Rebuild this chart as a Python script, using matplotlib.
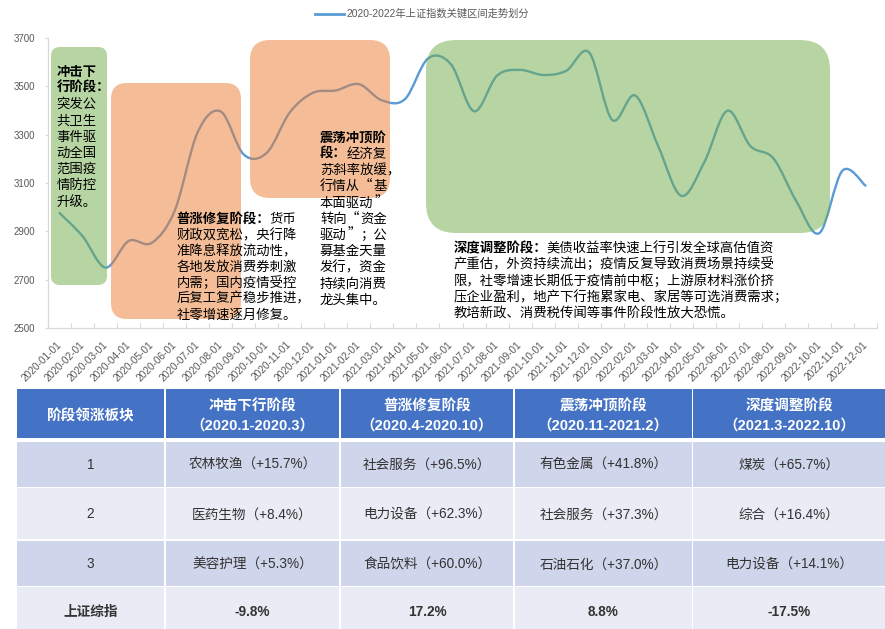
import numpy as np
import matplotlib
matplotlib.use("Agg")
import matplotlib.pyplot as plt
from matplotlib.path import Path
from matplotlib.patches import PathPatch, FancyBboxPatch, Rectangle
from matplotlib.transforms import Affine2D

# ---------------- data ----------------
dates = [f"{y}-{m:02d}-01" for y in (2020, 2021, 2022) for m in range(1, 13)]
sse = [2976, 2880, 2750, 2860, 2852, 2985, 3310, 3396, 3218, 3225, 3392, 3473,
       3483, 3509, 3442, 3447, 3615, 3591, 3397, 3544, 3568, 3547, 3564, 3640,
       3361, 3462, 3252, 3047, 3186, 3399, 3253, 3202, 3024, 2893, 3151, 3089]
series_name = "2020-2022年上证指数关键区间走势划分"
y_ticks = [2500, 2700, 2900, 3100, 3300, 3500, 3700]

table_header = ["阶段领涨板块",
                "冲击下行阶段\n（2020.1-2020.3）",
                "普涨修复阶段\n（2020.4-2020.10）",
                "震荡冲顶阶段\n（2020.11-2021.2）",
                "深度调整阶段\n（2021.3-2022.10）"]
table_rank = ["1", "2", "3", "上证综指"]
stage1 = ["农林牧渔（+15.7%）", "医药生物（+8.4%）", "美容护理（+5.3%）", "-9.8%"]
stage2 = ["社会服务（+96.5%）", "电力设备（+62.3%）", "食品饮料（+60.0%）", "17.2%"]
stage3 = ["有色金属（+41.8%）", "社会服务（+37.3%）", "石油石化（+37.0%）", "8.8%"]
stage4 = ["煤炭（+65.7%）", "综合（+16.4%）", "电力设备（+14.1%）", "-17.5%"]

notes = [
    [("冲击下", ""), ("行阶段：", ""), ("", "突发公"), ("", "共卫生"), ("", "事件驱"),
     ("", "动全国"), ("", "范围疫"), ("", "情防控"), ("", "升级。")],
    [("普涨修复阶段：", "货币"), ("", "财政双宽松，央行降"), ("", "准降息释放流动性，"),
     ("", "各地发放消费券刺激"), ("", "内需；国内疫情受控"), ("", "后复工复产稳步推进，"),
     ("", "社零增速逐月修复。")],
    [("震荡冲顶阶", ""), ("段：", "经济复"), ("", "苏斜率放缓，"), ("", "行情从“基"),
     ("", "本面驱动”"), ("", "转向“资金"), ("", "驱动”；公"), ("", "募基金天量"),
     ("", "发行，资金"), ("", "持续向消费"), ("", "龙头集中。")],
    [("深度调整阶段：", "美债收益率快速上行引发全球高估值资"),
     ("", "产重估，外资持续流出；疫情反复导致消费场景持续受"),
     ("", "限，社零增速长期低于疫情前中枢；上游原材料涨价挤"),
     ("", "压企业盈利，地产下行拖累家电、家居等可选消费需求；"),
     ("", "教培新政、消费税传闻等事件阶段性放大恐慌。")],
]

# ---------------- figure ----------------
W, H = 885, 629
fig = plt.figure(figsize=(W / 100, H / 100), dpi=100)
px = Affine2D().scale(1 / W, -1 / H).translate(0, 1) + fig.transFigure

ax = fig.add_axes([48 / W, 1 - 328 / H, 829 / W, 290 / H])
n = len(sse)
xs = np.arange(n, dtype=float)
ys = np.array(sse, dtype=float)

# smooth line (Excel-like cubic Bezier through the data points)
pts = np.column_stack([xs, ys])
verts = [pts[0]]
codes = [Path.MOVETO]
for i in range(n - 1):
    p0 = pts[max(i - 1, 0)]
    p1 = pts[i]
    p2 = pts[i + 1]
    p3 = pts[min(i + 2, n - 1)]
    c1 = p1 + (p2 - p0) / 6.0
    c2 = p2 - (p3 - p1) / 6.0
    verts += [c1, c2, p2]
    codes += [Path.CURVE4] * 3
line_color = "#5B9BD5"
ax.add_patch(PathPatch(Path(verts, codes), facecolor="none", edgecolor=line_color,
                       lw=1.7, zorder=2, capstyle="round"))
ax.plot([], [], color=line_color, lw=2, label=series_name)

ax.set_xlim(-0.5, n - 0.5)
ax.set_ylim(2500, 3700)
ax.set_yticks(y_ticks)
ax.set_yticklabels([str(v) for v in y_ticks], family="Liberation Sans", fontsize=7,
                   color="#595959")
ax.set_xticks(xs)
ax.set_xticklabels(dates, rotation=45, ha="right", va="center", rotation_mode="anchor",
                   family="Liberation Sans", fontsize=7.3, color="#595959")
ax.set_xticks(np.arange(-0.5, n, 1.0), minor=True)
ax.tick_params(axis="x", which="major", length=0, pad=11)
ax.tick_params(axis="x", which="minor", length=3.5, direction="in", color="#D9D9D9", width=0.8)
ax.tick_params(axis="y", length=2, color="#D9D9D9", pad=7.5)
for s in ("top", "right"):
    ax.spines[s].set_visible(False)
for s in ("left", "bottom"):
    ax.spines[s].set_color("#D9D9D9")
    ax.spines[s].set_linewidth(0.9)

leg = ax.legend(loc="center", bbox_to_anchor=(0.477, 1 - 14 / H), bbox_transform=fig.transFigure,
                frameon=False, handlelength=2.8, handletextpad=0.3,
                prop={"family": ["Liberation Sans", "Noto Sans CJK SC"], "size": 7.4})
for t in leg.get_texts():
    t.set_color("#595959")

# ---------------- shaded stage boxes ----------------
boxes = [  # x0, y0, x1, y1, radius, colour  (pixel layout)
    (51, 47, 107, 285, 9, "#70AD47"),
    (111, 83, 241, 319, 16, "#ED7D31"),
    (250, 40, 390, 198, 20, "#ED7D31"),
    (426, 40, 830, 233, 30, "#70AD47"),
]
for x0, y0, x1, y1, r, c in boxes:
    ax.add_patch(FancyBboxPatch((x0, y0), x1 - x0, y1 - y0,
                                boxstyle=f"round,pad=0,rounding_size={r}",
                                transform=px, facecolor=c, edgecolor="none", alpha=0.5,
                                zorder=3, clip_on=False))

# ---------------- notes ----------------
note_pos = [(56.5, 71.7, 16.25), (176.5, 219.3, 15.9), (320, 137.7, 16.2), (453.3, 248.3, 16.25)]
fs_note = 9.6
em = fs_note * 100 / 72
nfam = ["Noto Sans CJK SC", "DejaVu Sans"]


def put_run(x, y, s, bold):
    """Place a run of full-width characters; quotes are set in full-width cells."""
    run, start = "", 0
    for k, ch in enumerate(s + "\0"):
        if ch in "“”\0":
            if run:
                ax.text(x + start * em, y, run, transform=px, ha="left", va="center",
                        fontsize=fs_note, family=nfam, weight="bold" if bold else "normal",
                        color="black", zorder=5, clip_on=False)
            if ch == "“":
                ax.text(x + (k + 1) * em - 1, y, ch, transform=px, ha="right", va="center",
                        fontsize=fs_note, family=nfam, color="black", zorder=5, clip_on=False)
            elif ch == "”":
                ax.text(x + k * em + 1, y, ch, transform=px, ha="left", va="center",
                        fontsize=fs_note, family=nfam, color="black", zorder=5, clip_on=False)
            run, start = "", k + 1
        else:
            run += ch


for block, (x0, y0, dy) in zip(notes, note_pos):
    for k, (b, r) in enumerate(block):
        y = y0 + k * dy
        if b:
            put_run(x0, y, b, True)
        if r:
            put_run(x0 + len(b) * em, y, r, False)

# ---------------- table ----------------
col_edges = [(17, 164), (165.7, 339), (340.7, 513.3), (515, 691.7), (693.3, 885)]
row_edges = [(389, 438.3), (442.3, 486.7), (488, 539.3), (540.7, 586), (587.3, 632)]
row_colors = ["#4472C4", "#CFD5EA", "#E9EBF5", "#CFD5EA", "#E9EBF5"]
tfam = ["Liberation Sans", "Noto Sans CJK SC"]
columns = [table_rank, stage1, stage2, stage3, stage4]
for ri, (ry0, ry1) in enumerate(row_edges):
    for ci, (cx0, cx1) in enumerate(col_edges):
        fig.add_artist(Rectangle((cx0, ry0), cx1 - cx0, ry1 - ry0, transform=px,
                                 facecolor=row_colors[ri], edgecolor="none"))
        cx = (cx0 + cx1) / 2
        if ri == 0:
            lines = table_header[ci].split("\n")
            if len(lines) == 1:
                fig.text(cx, 416.5, lines[0], transform=px, ha="center", va="center",
                         fontsize=10.5, family=tfam, weight="bold", color="white")
            else:
                fig.text(cx, 406.7, lines[0], transform=px, ha="center", va="center",
                         fontsize=10.5, family=tfam, weight="bold", color="white")
                fig.text(cx, 425.7, lines[1], transform=px, ha="center", va="center",
                         fontsize=10.5, family=tfam, weight="bold", color="white")
        else:
            txt = columns[ci][ri - 1]
            yc = [465, 514.3, 564.3, 611.7][ri - 1]
            fig.text(cx, yc, txt, transform=px, ha="center", va="center", fontsize=9.8,
                     family=tfam, color="#333333",
                     weight="bold" if ri == 4 else "normal")

fig.savefig("out.png", dpi=100)
